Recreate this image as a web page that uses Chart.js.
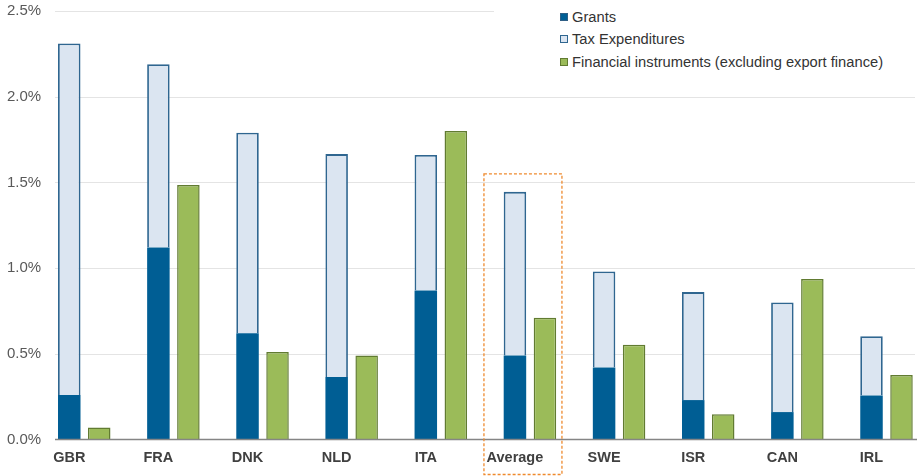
<!DOCTYPE html>
<html>
<head>
<meta charset="utf-8">
<script src="https://cdn.jsdelivr.net/npm/chart.js@4.4.1/dist/chart.umd.min.js"></script>
<style>
  html, body { margin: 0; padding: 0; background: #ffffff; }
  #wrap { position: relative; width: 917px; height: 476px; }
  #legend {
    position: absolute; left: 494px; top: 0; width: 423px; height: 78px;
    background: #ffffff; font-family: "Liberation Sans", Arial, sans-serif;
    font-size: 14.7px; color: #333333;
  }
  .item { position: absolute; left: 66px; height: 18px; line-height: 18px; white-space: nowrap; }
  .swatch { position: absolute; left: 0; top: 5px; width: 6px; height: 6px; border: 1px solid; }
  .label { position: absolute; left: 12px; top: 0; }
</style>
</head>
<body>
<div id="wrap">
  <canvas id="chart" width="917" height="476"></canvas>
  <div id="legend"></div>
</div>
<script>
// Public support for business R&D, % of GDP
const categories = ['GBR', 'FRA', 'DNK', 'NLD', 'ITA', 'Average', 'SWE', 'ISR', 'CAN', 'IRL'];
const grants = [0.26, 1.12, 0.62, 0.365, 0.87, 0.49, 0.42, 0.23, 0.16, 0.256];
const taxExpenditures = [2.05, 1.07, 1.17, 1.30, 0.79, 0.955, 0.56, 0.63, 0.64, 0.346];
const financialInstruments = [0.07, 1.485, 0.51, 0.49, 1.80, 0.71, 0.553, 0.147, 0.936, 0.377];
const seriesNames = ['Grants', 'Tax Expenditures', 'Financial instruments (excluding export finance)'];
const yTicks = [0, 0.5, 1.0, 1.5, 2.0, 2.5];
const highlighted = 'Average';

const FONT = '"Liberation Sans", Arial, sans-serif';

// Light grid lines and the baseline span the full plotting width
const gridPlugin = {
  id: 'wideGrid',
  beforeDatasetsDraw(chart) {
    const { ctx } = chart;
    const y = chart.scales.y;
    ctx.save();
    ctx.strokeStyle = '#e4e4e4';
    ctx.lineWidth = 1;
    yTicks.forEach(v => {
      if (v === 0) return;
      const py = Math.round(y.getPixelForValue(v)) + 0.5;
      ctx.beginPath();
      ctx.moveTo(55, py);
      ctx.lineTo(915, py);
      ctx.stroke();
    });
    ctx.restore();
  },
  afterDatasetsDraw(chart) {
    const { ctx } = chart;
    const x = chart.scales.x;
    const y = chart.scales.y;
    ctx.save();
    // baseline
    const py0 = y.getPixelForValue(0);
    ctx.strokeStyle = '#858585';
    ctx.lineWidth = 1.5;
    ctx.beginPath();
    ctx.moveTo(55, py0);
    ctx.lineTo(917, py0);
    ctx.stroke();
    // dashed frame around the average
    const idx = categories.indexOf(highlighted);
    const cx = x.getPixelForValue(idx);
    const top = y.getPixelForValue(1.55);
    ctx.strokeStyle = '#ef8a2e';
    ctx.lineWidth = 1.3;
    ctx.setLineDash([3, 2]);
    ctx.strokeRect(cx - 46, top, 78, chart.height - 1.5 - top);
    ctx.restore();
  }
};

const chart = new Chart(document.getElementById('chart'), {
  type: 'bar',
  data: {
    labels: categories,
    datasets: [
      {
        label: seriesNames[0], data: grants, stack: 'support',
        backgroundColor: '#005e94', borderColor: '#005e94', borderWidth: 0,
        clip: false
      },
      {
        label: seriesNames[1], data: taxExpenditures, stack: 'support',
        backgroundColor: '#dbe5f1', borderColor: '#2f6690', borderWidth: 1.8,
        clip: false
      },
      {
        label: seriesNames[2], data: financialInstruments, stack: 'finance',
        backgroundColor: '#9bbb59', borderColor: '#617b31', borderWidth: 1.5,
        clip: false
      }
    ]
  },
  options: {
    responsive: false,
    animation: false,
    events: [],
    layout: { padding: { top: 11, right: 30.5, bottom: 0, left: 7 } },
    datasets: { bar: { categoryPercentage: 0.673, barPercentage: 0.75 } },
    plugins: { legend: { display: false }, tooltip: { enabled: false } },
    scales: {
      x: {
        stacked: true,
        offset: false,
        grid: { display: false, drawTicks: false },
        border: { display: false },
        ticks: {
          autoSkip: false, maxRotation: 0, padding: 10, labelOffset: -15,
          color: '#404040', font: { family: FONT, size: 14.5, weight: 'bold' }
        },
        afterFit(scale) { scale.height = 36.5; }
      },
      y: {
        stacked: true,
        min: 0, max: 2.5,
        grid: { display: false, drawTicks: false },
        border: { display: false },
        afterBuildTicks(scale) { scale.ticks = yTicks.map(v => ({ value: v })); },
        ticks: {
          padding: 0, crossAlign: 'far',
          color: '#595959', font: { family: FONT, size: 15 },
          callback: v => Number(v).toFixed(1) + '%'
        },
        afterFit(scale) { scale.width = 77.25; }
      }
    }
  },
  plugins: [gridPlugin]
});

// Legend in a single column, top right
const legend = document.getElementById('legend');
const rows = [17, 39, 62];
chart.data.datasets.forEach((ds, i) => {
  const item = document.createElement('div');
  item.className = 'item';
  item.style.top = (rows[i] - 9) + 'px';
  const sw = document.createElement('span');
  sw.className = 'swatch';
  sw.style.background = ds.backgroundColor;
  sw.style.borderColor = i === 0 ? '#2f5f85' : ds.borderColor;
  const tx = document.createElement('span');
  tx.className = 'label';
  tx.textContent = ds.label;
  item.appendChild(sw);
  item.appendChild(tx);
  legend.appendChild(item);
});
</script>
</body>
</html>
